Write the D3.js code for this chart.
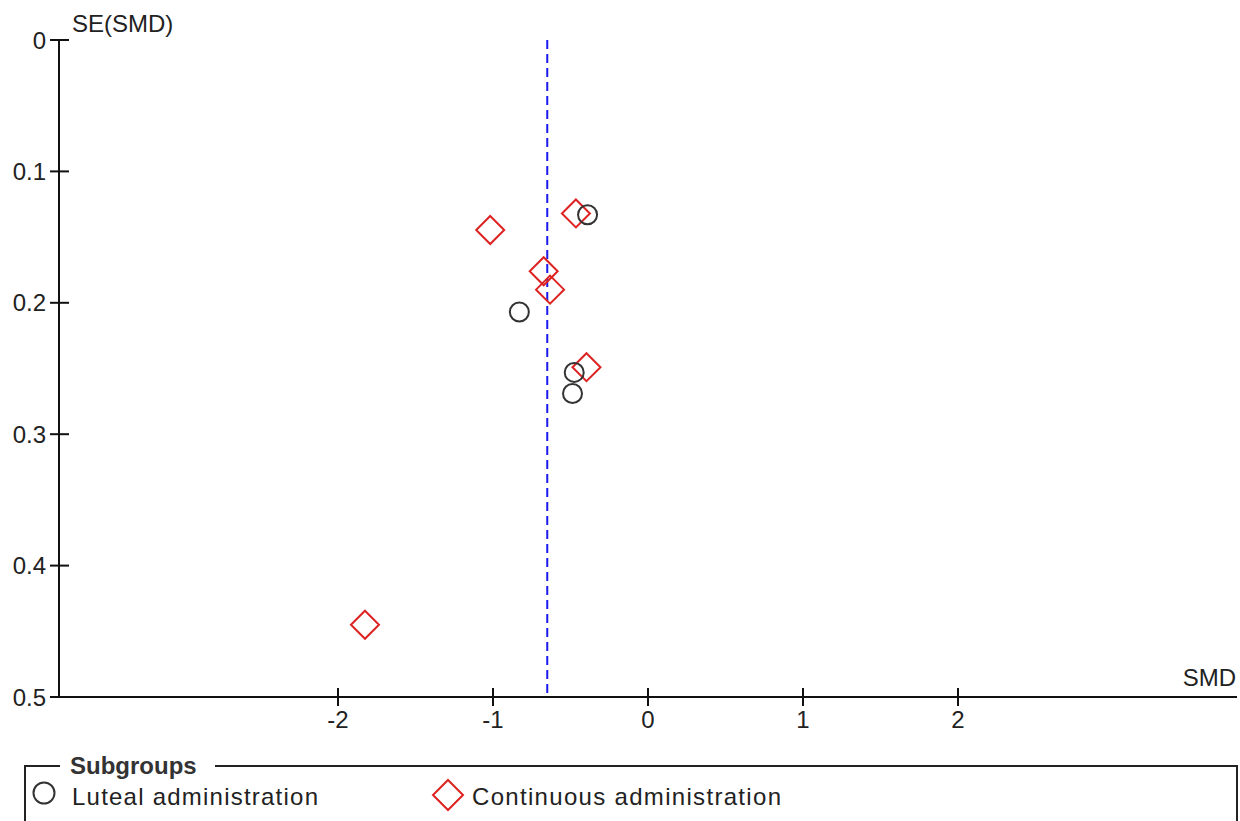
<!DOCTYPE html>
<html>
<head>
<meta charset="utf-8">
<script src="https://cdn.jsdelivr.net/npm/d3@7"></script>
<style>
  body { margin: 0; background: #fff; }
  svg { display: block; }
  text { font-family: "Liberation Sans", Arial, sans-serif; fill: #222; }
</style>
</head>
<body>
<div id="chart"></div>
<script>
// funnel plot data: SMD vs SE(SMD)
var lutealSmd = [-0.39, -0.83, -0.476, -0.487];
var lutealSe = [0.133, 0.207, 0.253, 0.269];
var continuousSmd = [-0.465, -1.018, -0.673, -0.632, -0.397, -1.826];
var continuousSe = [0.132, 0.1446, 0.176, 0.190, 0.249, 0.445];
var pooledSmd = -0.65;
var xTicks = [-2, -1, 0, 1, 2];
var yTicks = [0, 0.1, 0.2, 0.3, 0.4, 0.5];
var legendLabels = ['Luteal administration', 'Continuous administration'];

var width = 1240, height = 821;

var svg = d3.select('#chart').append('svg')
  .attr('width', width)
  .attr('height', height);

var x = d3.scaleLinear().domain([-3.8, 3.8]).range([59, 1237]);
var y = d3.scaleLinear().domain([0, 0.5]).range([40, 697]);

// y axis
var yAxis = svg.append('g').attr('transform', 'translate(' + x(-3.8) + ',0)');
yAxis.append('line')
  .attr('y1', y(0)).attr('y2', y(0.5))
  .attr('stroke', '#111').attr('stroke-width', 2);
var yt = yAxis.selectAll('.ytick').data(yTicks).enter().append('g')
  .attr('transform', function (d) { return 'translate(0,' + y(d) + ')'; });
yt.append('line').attr('x1', -9).attr('x2', 10)
  .attr('stroke', '#111').attr('stroke-width', 2);
yt.append('text')
  .attr('x', -13).attr('dy', '0.36em')
  .attr('text-anchor', 'end')
  .style('font-size', '24px')
  .text(function (d) { return d === 0 ? '0' : d3.format('.1f')(d); });

svg.append('text')
  .attr('x', 72).attr('y', 32)
  .style('font-size', '24px')
  .text('SE(SMD)');

// x axis
var xAxis = svg.append('g').attr('transform', 'translate(0,' + y(0.5) + ')');
xAxis.append('line')
  .attr('x1', x(-3.8)).attr('x2', x(3.8))
  .attr('stroke', '#111').attr('stroke-width', 2);
var xt = xAxis.selectAll('.xtick').data(xTicks).enter().append('g')
  .attr('transform', function (d) { return 'translate(' + x(d) + ',0)'; });
xt.append('line').attr('y1', -9).attr('y2', 9)
  .attr('stroke', '#111').attr('stroke-width', 2);
xt.append('text')
  .attr('y', 31)
  .attr('text-anchor', 'middle')
  .style('font-size', '24px')
  .text(function (d) { return d; });

svg.append('text')
  .attr('x', 1236).attr('y', 686)
  .attr('text-anchor', 'end')
  .style('font-size', '24px')
  .text('SMD');

// pooled estimate
svg.append('line')
  .attr('x1', x(pooledSmd)).attr('x2', x(pooledSmd))
  .attr('y1', y(0)).attr('y2', y(0.5))
  .attr('stroke', '#1a1aee').attr('stroke-width', 2)
  .attr('stroke-dasharray', '9,5');

// points
var luteal = lutealSmd.map(function (d, i) { return { smd: d, se: lutealSe[i] }; });
var continuous = continuousSmd.map(function (d, i) { return { smd: d, se: continuousSe[i] }; });

svg.selectAll('.cont').data(continuous).enter().append('path')
  .attr('d', 'M0,-14L14,0L0,14L-14,0Z')
  .attr('transform', function (d) { return 'translate(' + x(d.smd) + ',' + y(d.se) + ')'; })
  .attr('fill', 'none').attr('stroke', '#dd2222').attr('stroke-width', 2);

svg.selectAll('.lut').data(luteal).enter().append('circle')
  .attr('cx', function (d) { return x(d.smd); })
  .attr('cy', function (d) { return y(d.se); })
  .attr('r', 9.5)
  .attr('fill', 'none').attr('stroke', '#333').attr('stroke-width', 2);

// legend
var lg = svg.append('g');
lg.append('path')
  .attr('d', 'M25,' + height + 'L25,766L60,766M215,766L1237,766L1237,' + height)
  .attr('fill', 'none').attr('stroke', '#222').attr('stroke-width', 2);
lg.append('text')
  .attr('x', 70).attr('y', 774)
  .style('font-size', '24px').style('font-weight', 'bold')
  .style('fill', '#333')
  .text('Subgroups');
lg.append('circle')
  .attr('cx', 44).attr('cy', 793).attr('r', 10.5)
  .attr('fill', 'none').attr('stroke', '#333').attr('stroke-width', 2);
lg.append('path')
  .attr('d', 'M0,-15L15,0L0,15L-15,0Z')
  .attr('transform', 'translate(448,795)')
  .attr('fill', 'none').attr('stroke', '#dd2222').attr('stroke-width', 2);
lg.selectAll('.lgtext').data(legendLabels).enter().append('text')
  .attr('x', function (d, i) { return i === 0 ? 72 : 472; })
  .attr('y', 805)
  .style('font-size', '24px')
  .attr('textLength', function (d, i) { return i === 0 ? 246 : 309; })
  .text(function (d) { return d; });
</script>
</body>
</html>
